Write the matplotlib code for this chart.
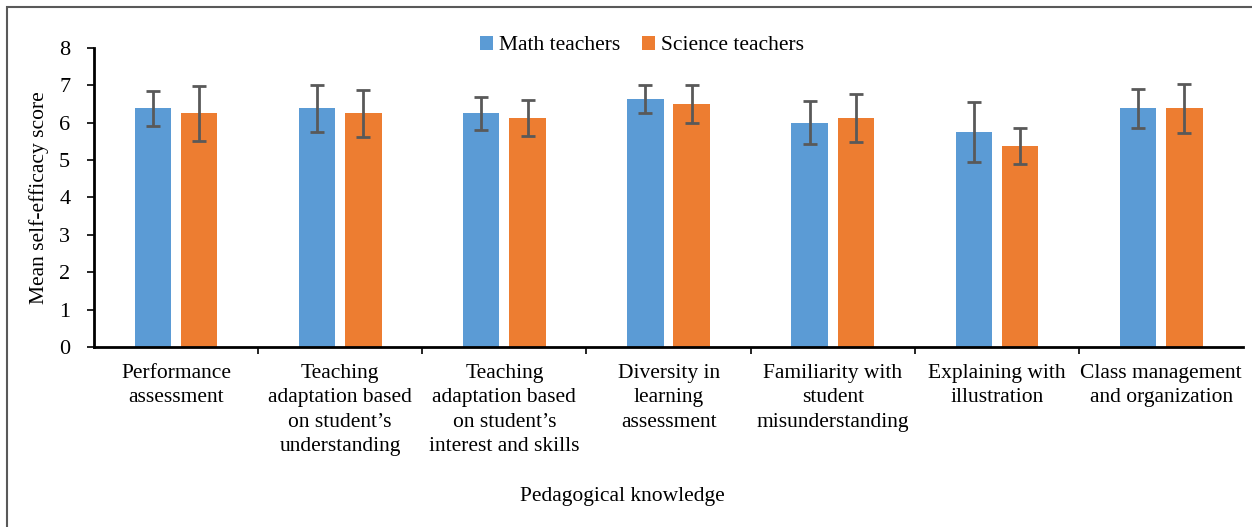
import numpy as np
import matplotlib as mpl
import matplotlib.pyplot as plt
from matplotlib.patches import Rectangle

# data:
categories = ['Performance\nassessment',
              'Teaching\nadaptation based\non student\u2019s\nunderstanding',
              'Teaching\nadaptation based\non student\u2019s\ninterest and skills',
              'Diversity in\nlearning\nassessment',
              'Familiarity with\nstudent\nmisunderstanding',
              'Explaining with\nillustration',
              'Class management\nand organization']
math_mean = [6.38, 6.38, 6.25, 6.63, 6.00, 5.75, 6.38]
math_err = [0.48, 0.62, 0.45, 0.38, 0.58, 0.81, 0.51]
science_mean = [6.25, 6.25, 6.13, 6.50, 6.13, 5.38, 6.38]
science_err = [0.73, 0.62, 0.48, 0.52, 0.64, 0.49, 0.65]
series_names = ['Math teachers', 'Science teachers']
colors = ['#5B9BD5', '#ED7D31']

mpl.rcParams['font.family'] = ['Liberation Serif', 'DejaVu Serif']
mpl.rcParams['font.size'] = 15.5

fig = plt.figure(figsize=(12.52, 5.27), dpi=100)
ax = fig.add_axes([0.075, 0.3416, 0.918, 0.5675])

x = np.arange(len(categories))
w = 0.222
off = 0.141
ekw = dict(ecolor='#595959', elinewidth=2, capsize=5, capthick=2)
ax.bar(x - off, math_mean, w, yerr=math_err, color=colors[0],
       label=series_names[0], error_kw=ekw)
ax.bar(x + off, science_mean, w, yerr=science_err, color=colors[1],
       label=series_names[1], error_kw=ekw)

ax.set_xlim(-0.5, len(categories) - 0.5)
ax.set_ylim(0, 8)
ax.set_yticks(range(0, 9))
ax.tick_params(axis='y', labelsize=16, direction='out', length=5, width=1.2, pad=12)
# category ticks between the groups
ax.set_xticks(np.arange(0.5, len(categories) - 0.5), minor=False)
ax.set_xticklabels([])
ax.tick_params(axis='x', direction='out', length=5, width=1.2)
ax.set_xticks(x, minor=True)
ax.set_xticklabels(categories, minor=True, linespacing=1.4)
ax.tick_params(axis='x', which='minor', length=0, labelsize=15.5, pad=12)
for s in ['top', 'right']:
    ax.spines[s].set_visible(False)
for s in ['left', 'bottom']:
    ax.spines[s].set_linewidth(2)

ax.set_ylabel('Mean self-efficacy score', fontsize=15.5, labelpad=7)
fig.text(0.497, 0.058, 'Pedagogical knowledge', ha='center', va='center', fontsize=15.5)

ax.legend(loc='upper center', bbox_to_anchor=(0.477, 1.105), ncol=2, frameon=False,
          fontsize=15.5, handlelength=0.6, handleheight=0.6, handletextpad=0.3,
          columnspacing=1.0)

# outer frame (cut at right and bottom)
fig.patches.append(Rectangle((7 / 1252, -0.1), 1.2, 1.1 - 7 / 527,
                             transform=fig.transFigure, fill=False,
                             edgecolor='#595959', linewidth=1.5))

fig.savefig('out.png', dpi=100)
